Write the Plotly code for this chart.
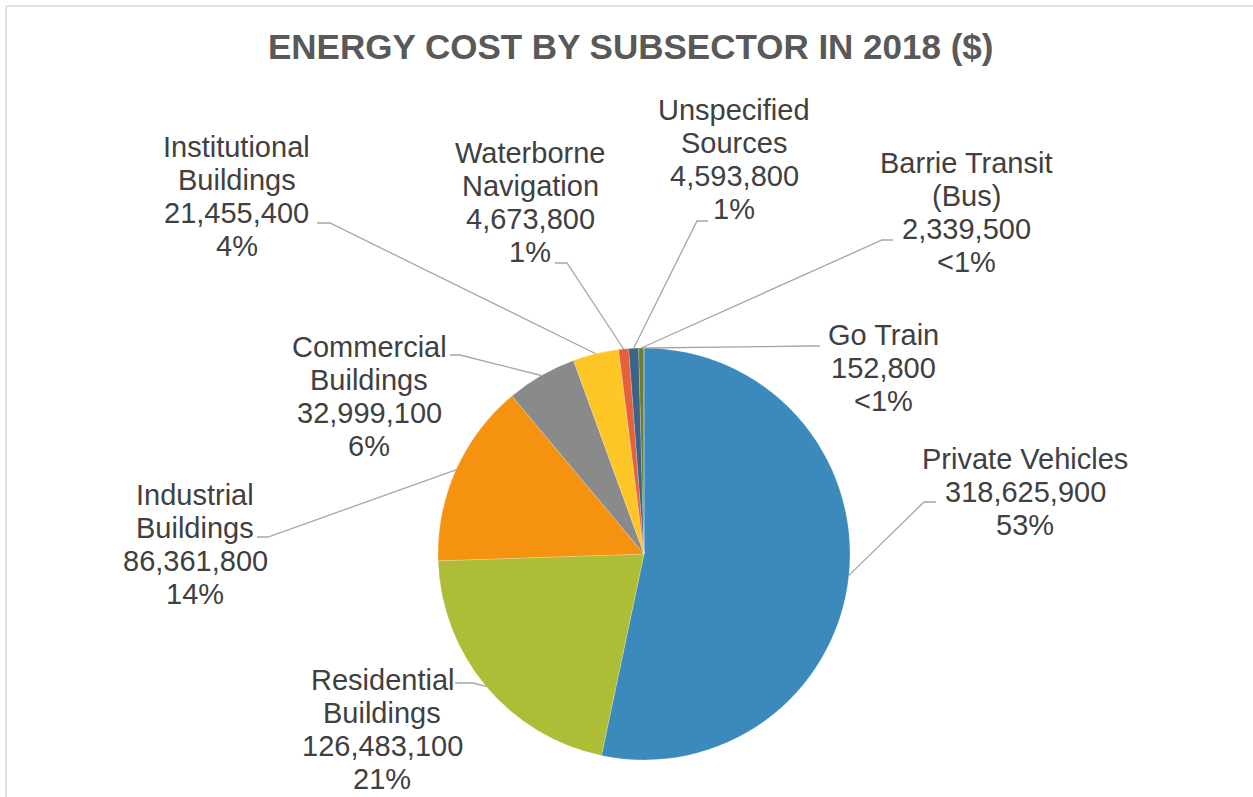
import math
import plotly.graph_objects as go

# ---------------- data ----------------
categories = [
    "Private Vehicles",
    "Residential Buildings",
    "Industrial Buildings",
    "Commercial Buildings",
    "Institutional Buildings",
    "Waterborne Navigation",
    "Unspecified Sources",
    "Barrie Transit (Bus)",
    "Go Train",
]
label_names = [
    ["Private Vehicles"],
    ["Residential", "Buildings"],
    ["Industrial", "Buildings"],
    ["Commercial", "Buildings"],
    ["Institutional", "Buildings"],
    ["Waterborne", "Navigation"],
    ["Unspecified", "Sources"],
    ["Barrie Transit", "(Bus)"],
    ["Go Train"],
]
costs = [318625900, 126483100, 86361800, 32999100, 21455400, 4673800, 4593800, 2339500, 152800]
colors = ["#3c89bb", "#adbd35", "#f5920f", "#8a8a8a", "#fec526",
          "#e5603c", "#3e6485", "#6e7c32", "#264478"]

# ---------------- layout constants (pixels) ----------------
W, H = 1253, 797
CX, CY, R = 644, 554, 206
LINE_H = 33
FONT = "Liberation Sans, Arial, sans-serif"
TEXT_COLOR = "#404040"
LEADER_COLOR = "#a6a6a6"

# label block (center x, first-line center y)
label_pos = [(1025, 459), (382, 680), (195, 495), (369, 347), (237, 147),
             (530, 153), (734, 110), (966, 163), (883, 335)]
# leader line: (label end point, elbow point)
leader_pts = [((936, 502), (924, 502)), ((455, 683), (473, 683)),
              ((257, 537), (268, 537)), ((450, 355), (460, 355)),
              ((317, 223), (330, 223)), ((555, 263), (567, 263)),
              ((708, 221), (697, 221)), ((893, 240), (882, 240)),
              ((820, 346), (810, 346))]


def px(x):
    return x / W


def py(y):
    return 1 - y / H


total = sum(costs)

fig = go.Figure()
fig.add_trace(go.Pie(
    labels=categories,
    values=costs,
    sort=False,
    direction="clockwise",
    rotation=0,
    marker=dict(colors=colors, line=dict(color="rgba(255,255,255,0.5)", width=0.4)),
    textinfo="none",
    hoverinfo="label+value+percent",
    showlegend=False,
    domain=dict(x=[px(CX - R), px(CX + R)], y=[py(CY + R), py(CY - R)]),
))

annotations = []
shapes = []

# title
annotations.append(dict(
    x=px(630), y=py(47), xref="paper", yref="paper",
    text="<b>ENERGY COST BY SUBSECTOR IN 2018 ($)</b>",
    showarrow=False, xanchor="center", yanchor="middle",
    font=dict(family=FONT, size=35, color="#595959"),
))

cum = 0.0
for i, v in enumerate(costs):
    frac = v / total
    mid = (cum + frac / 2) * 2 * math.pi
    cum += frac
    rp = round(v / total * 100)
    pct_txt = "<1%" if rp < 1 else f"{rp}%"
    lines = label_names[i] + [f"{v:,}", pct_txt]
    lx, ly = label_pos[i]
    for k, t in enumerate(lines):
        annotations.append(dict(
            x=px(lx), y=py(ly + k * LINE_H), xref="paper", yref="paper",
            text=t, showarrow=False, xanchor="center", yanchor="middle",
            font=dict(family=FONT, size=29, color=TEXT_COLOR),
        ))
    # leader line from slice edge to label
    ex = CX + R * math.sin(mid)
    ey = CY - R * math.cos(mid)
    (ax, ay), (bx, by) = leader_pts[i]
    shapes.append(dict(
        type="path", xref="paper", yref="paper",
        path=f"M {px(ex)},{py(ey)} L {px(bx)},{py(by)} L {px(ax)},{py(ay)}",
        line=dict(color=LEADER_COLOR, width=1.3),
    ))

# chart border (top and left visible)
shapes.append(dict(type="line", xref="paper", yref="paper",
                   x0=px(6), y0=py(6), x1=1.0, y1=py(6),
                   line=dict(color="#d9d9d9", width=1.5)))
shapes.append(dict(type="line", xref="paper", yref="paper",
                   x0=px(6), y0=py(6), x1=px(6), y1=0.0,
                   line=dict(color="#d9d9d9", width=1.5)))

fig.update_layout(
    width=W, height=H,
    margin=dict(l=0, r=0, t=0, b=0),
    paper_bgcolor="white", plot_bgcolor="white",
    annotations=annotations,
    shapes=shapes,
)

fig.write_html("out.html",
               config={"displayModeBar": False},
               post_script="document.body.style.margin='0';document.body.style.overflow='hidden';")
